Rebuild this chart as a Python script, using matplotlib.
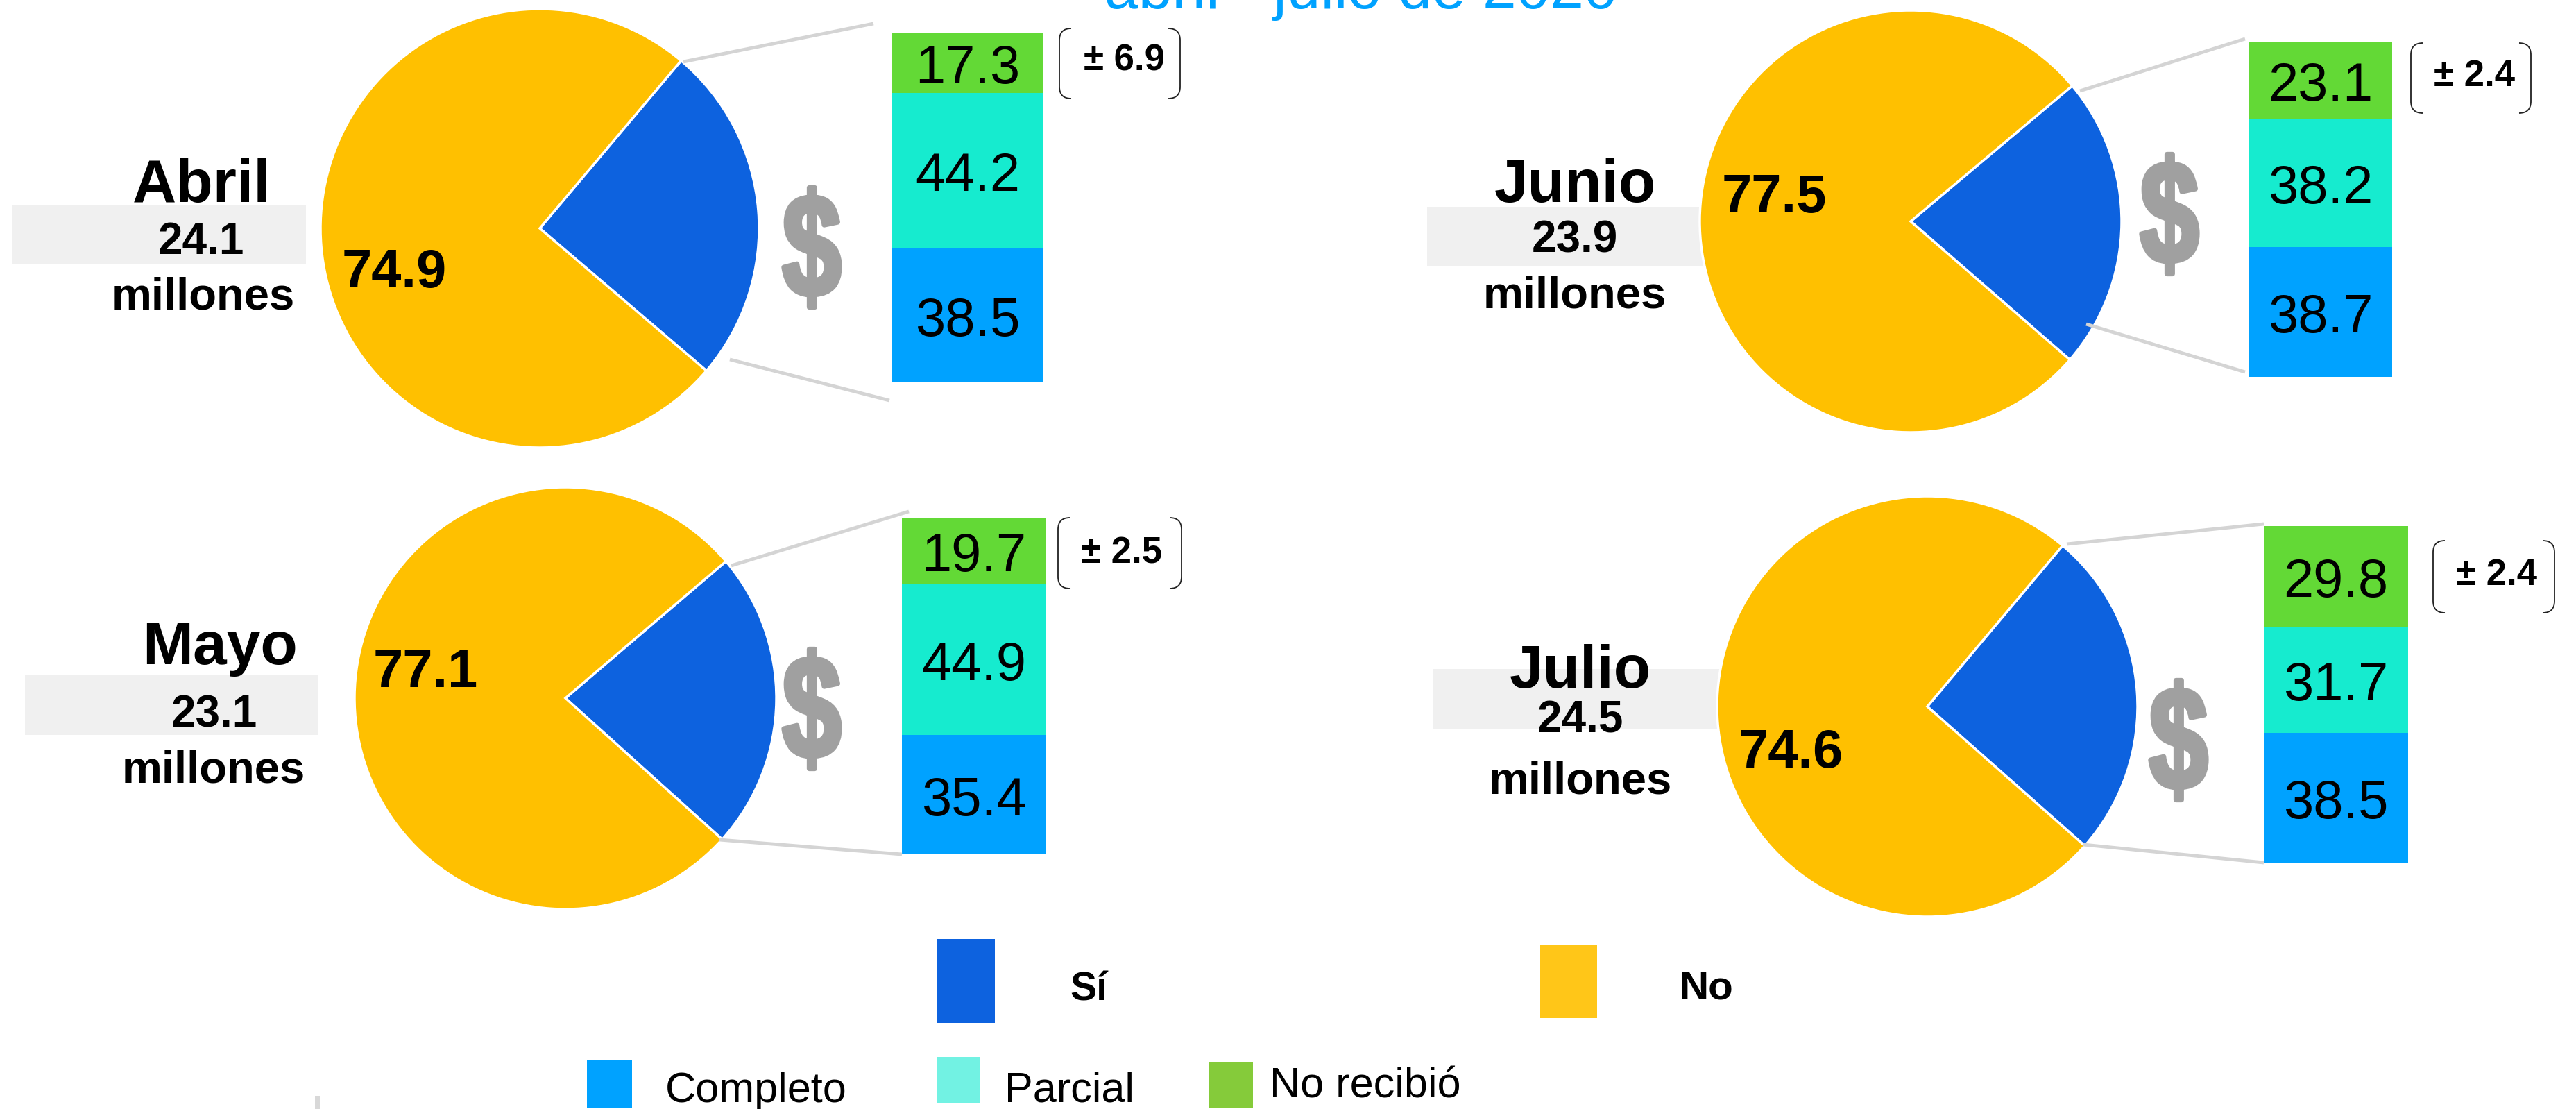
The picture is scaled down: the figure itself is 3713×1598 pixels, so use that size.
import matplotlib
matplotlib.use("Agg")
import matplotlib.pyplot as plt
from matplotlib.patches import PathPatch, Rectangle
from matplotlib.path import Path
from matplotlib.patheffects import AbstractPathEffect
from matplotlib.transforms import Affine2D

plt.rcParams['font.family'] = ['Liberation Sans', 'DejaVu Sans']

W, H = 3713, 1598

# data
months = ['Abril', 'Mayo', 'Junio', 'Julio']
totals = ['24.1', '23.1', '23.9', '24.5']
si = [25.1, 22.9, 22.5, 25.4]
no = [74.9, 77.1, 77.5, 74.6]
completo = [38.5, 35.4, 38.7, 38.5]
parcial = [44.2, 44.9, 38.2, 31.7]
no_recibio = [17.3, 19.7, 23.1, 29.8]
margins = ['± 6.9', '± 2.5', '± 2.4', '± 2.4']

# colours
c_si = '#0D62DF'
c_no = '#FFC000'
c_comp = '#00A2FF'
c_parc = '#16EBCF'
c_norec = '#63D936'
c_line = '#D4D4D4'
c_dollar = '#A0A0A0'

# layout per month, all in pixels of the picture
pie_xy = [(778, 329), (815, 1006), (2754, 319), (2778, 1018)]
pie_r = [316, 304, 304, 303]
pie_low = [-40.5, -42, -41, -41.5]  # where the Si slice begins
bar_box = [(1286, 47, 1503, 551), (1300, 746, 1508, 1231),
           (3241, 60, 3448, 543), (3263, 758, 3471, 1243)]
band = [(18, 295, 441, 381), (36, 973, 459, 1059),
        (2057, 298, 2460, 384), (2065, 964, 2486, 1050)]
title_pos = [(291, 291), (317, 957), (2270, 291), (2278, 991)]
total_pos = [(290, 366), (309, 1047), (2270, 363), (2278, 1056)]
mill_pos = [(293, 446), (308, 1127), (2270, 444), (2278, 1144)]
no_pos = [(568, 414), (613, 990), (2557, 306), (2581, 1106)]
dollar_pos = [(1170, 372), (1170, 1037), (3127, 324), (3140, 1082)]
upper = [((985, 89), (1259, 34)), ((1054, 815), (1310, 737)),
         ((2998, 131), (3236, 56)), ((2979, 784), (3263, 755))]
lower = [((1052, 518), (1282, 577)), ((1037, 1210), (1300, 1231)),
         ((3007, 467), (3236, 536)), ((3003, 1217), (3263, 1243))]
brackets = [(1527, 41, 1701, 142), (1525, 746, 1703, 848),
            (3475, 62, 3648, 163), (3507, 779, 3682, 883)]
margin_pos = [(1620, 87), (1617, 798), (3567, 110), (3599, 829)]


class Squeeze(AbstractPathEffect):
    # narrows a glyph around a display x and thickens it, the $ icon is heavier and thinner than any installed font
    def __init__(self, cx, sx):
        super().__init__()
        self.cx = cx
        self.sx = sx

    def draw_path(self, renderer, gc, tpath, affine, rgbFace=None):
        squeezed = affine + Affine2D().translate(-self.cx, 0).scale(self.sx, 1).translate(self.cx, 0)
        gc0 = renderer.new_gc()
        gc0.copy_properties(gc)
        gc0.set_linewidth(5)
        gc0.set_foreground(c_dollar)
        renderer.draw_path(gc0, tpath, squeezed, rgbFace)
        gc0.restore()


def px_axes(x0, y0, x1, y1, z):
    return fig.add_axes([x0 / W, 1 - y1 / H, (x1 - x0) / W, (y1 - y0) / H], zorder=z)


def bracket(ax, x0, y0, x1, y1):
    r = 17
    for x, s in ((x0, 1), (x1, -1)):
        verts = [(x + s * r, y0), (x, y0), (x, y0 + r), (x, y1 - r), (x, y1), (x + s * r, y1)]
        codes = [Path.MOVETO, Path.CURVE3, Path.CURVE3, Path.LINETO, Path.CURVE3, Path.CURVE3]
        ax.add_patch(PathPatch(Path(verts, codes), fc='none', ec='#222222', lw=1.3))


fig = plt.figure(figsize=(W / 100, H / 100), dpi=100, facecolor='white')

# grey bands sit under the pies
back = px_axes(0, 0, W, H, 0)
back.set_xlim(0, W)
back.set_ylim(H, 0)
back.axis('off')
for x0, y0, x1, y1 in band:
    back.add_patch(Rectangle((x0, y0), x1 - x0, y1 - y0, fc='#F0F0F0', ec='none'))

for i in range(4):
    cx, cy = pie_xy[i]
    r = pie_r[i]
    ax = px_axes(cx - r, cy - r, cx + r, cy + r, 2)
    ax.pie([si[i], no[i]], colors=[c_si, c_no], startangle=pie_low[i],
           wedgeprops={'edgecolor': 'white', 'linewidth': 2.5})
    ax.set_xlim(-1, 1)
    ax.set_ylim(-1, 1)

    x0, y0, x1, y1 = bar_box[i]
    bx = px_axes(x0, y0, x1, y1, 2)
    bottom = 0
    for vals, col in ((completo, c_comp), (parcial, c_parc), (no_recibio, c_norec)):
        bars = bx.bar([0], [vals[i]], bottom=bottom, width=1, color=col)
        labs = bx.bar_label(bars, labels=['%.1f' % vals[i]], label_type='center', fontsize=56, color='black')
        for t in labs:
            t.xyann = (0, -6.5)  # digits sit a little under the middle
        bottom += vals[i]
    bx.set_xlim(-0.5, 0.5)
    bx.set_ylim(0, bottom)
    bx.axis('off')

# everything else goes on top
top = px_axes(0, 0, W, H, 4)
top.set_xlim(0, W)
top.set_ylim(H, 0)
top.axis('off')

top.text(1962, 12, 'abril - julio de 2020', color='#00A2FF', fontsize=63,
         ha='center', va='baseline')

for i in range(4):
    top.text(*title_pos[i], months[i], fontsize=63, fontweight='bold', ha='center', va='baseline')
    top.text(*total_pos[i], totals[i], fontsize=46, fontweight='bold', ha='center', va='baseline')
    top.text(*mill_pos[i], 'millones', fontsize=47, fontweight='bold', ha='center', va='baseline')
    top.text(*no_pos[i], '%.1f' % no[i], fontsize=56, fontweight='bold', ha='center', va='baseline')
    disp_x = top.transData.transform(dollar_pos[i])[0]
    top.text(*dollar_pos[i], '$', fontsize=152, fontweight='bold', color=c_dollar, ha='center', va='center',
             path_effects=[Squeeze(disp_x, 0.72)])
    for a, b in (upper[i], lower[i]):
        top.plot([a[0], b[0]], [a[1], b[1]], color=c_line, lw=3.5, solid_capstyle='butt')
    bracket(top, *brackets[i])
    top.text(*margin_pos[i], margins[i], fontsize=38, fontweight='bold', ha='center', va='center')

# legends
legend_boxes = [(1351, 1353, 1434, 1474, c_si), (2220, 1361, 2302, 1467, '#FFC618'),
                (846, 1528, 911, 1597, c_comp), (1351, 1523, 1413, 1589, '#72F2E3'),
                (1743, 1530, 1806, 1596, '#85CB3A')]
for x0, y0, x1, y1, col in legend_boxes:
    top.add_patch(Rectangle((x0, y0), x1 - x0, y1 - y0, fc=col, ec='none'))
top.text(1542, 1442, 'Sí', fontsize=41, fontweight='bold', va='baseline')
top.text(2420, 1440, 'No', fontsize=42, fontweight='bold', va='baseline')
top.text(959, 1588, 'Completo', fontsize=44, va='baseline')
top.text(1448, 1588, 'Parcial', fontsize=44, va='baseline')
top.text(1830, 1581, 'No recibió', fontsize=44, va='baseline')
top.add_patch(Rectangle((454, 1579), 7, 19, fc='#D8D8D8', ec='none'))

fig.savefig('out.png', dpi=100)
